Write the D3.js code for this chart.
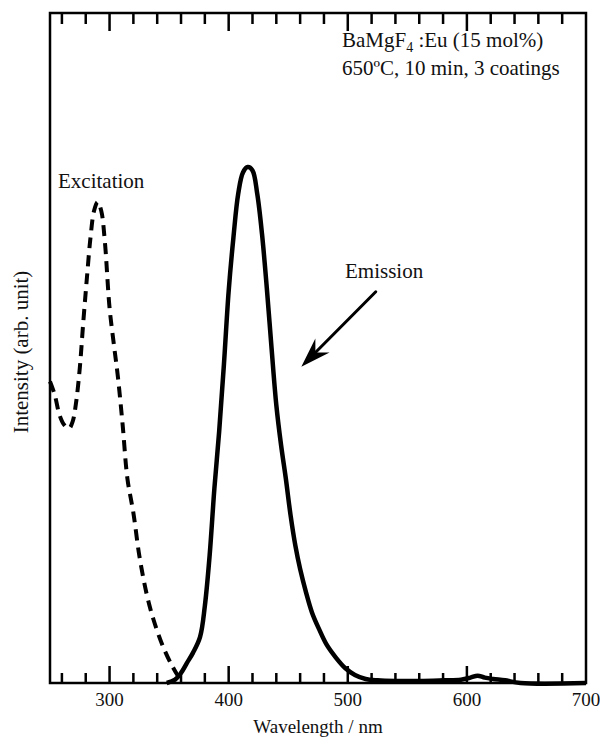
<!DOCTYPE html>
<html><head><meta charset="utf-8">
<script src="https://cdn.jsdelivr.net/npm/d3@7"></script>
<style>body{margin:0;background:#fff}svg{display:block}</style>
</head><body><svg id="c" width="600" height="739"></svg>
<script>
// ---- data ----
const excitationWl  = [250,254,258,262,266,269,272,275,278,281,284,287,290,293,296,300,304,307,311,315,320,325,331,337,345,353,360];
const excitationInt = [0.45,0.43,0.40,0.385,0.38,0.39,0.42,0.47,0.54,0.605,0.665,0.705,0.718,0.705,0.66,0.56,0.50,0.457,0.385,0.305,0.254,0.19,0.134,0.094,0.054,0.024,0.003];
const emissionWl  = [348,355,360,365,370,376,380,384,388,392,396,400,404,408,412,416,420,424,428,432,436,440,444,448,452,456,460,465,470,476,482,490,498,506,515,525,540,560,580,595,603,609,615,622,632,645,700];
const emissionInt = [0,0.005,0.015,0.03,0.045,0.069,0.115,0.19,0.29,0.375,0.475,0.585,0.665,0.73,0.762,0.77,0.765,0.73,0.67,0.59,0.50,0.415,0.355,0.305,0.25,0.205,0.17,0.135,0.105,0.08,0.058,0.038,0.022,0.012,0.006,0.004,0.003,0.003,0.004,0.005,0.008,0.011,0.008,0.006,0.004,0,0];
const majorTicks = [300,400,500,600,700];
const minorTicks = [260,280,320,340,360,380,420,440,460,480,520,540,560,580,620,640,660,680];
const xTitle = "Wavelength / nm";
const yTitle = "Intensity (arb. unit)";
const sampleLine1 = ["BaMgF", "4", " :Eu (15 mol%)"];
const sampleLine2 = "650ºC, 10 min, 3 coatings";
const excLabel = "Excitation";
const emiLabel = "Emission";

// ---- layout ----
const L = 50, R = 586, T = 13, B = 683;
const svg = d3.select("#c");
const x = d3.scaleLinear().domain([250, 700]).range([L, R]);
const y = d3.scaleLinear().domain([0, 1]).range([B, T]);
const FONT = "'Liberation Serif','Times New Roman',serif";
const INK = "#111";

// frame
svg.append("rect").attr("x", L).attr("y", T).attr("width", R - L).attr("height", B - T)
  .attr("fill", "none").attr("stroke", "#000").attr("stroke-width", 2.5);

// ticks (inward, bottom and top) drawn as thin filled rects
const tg = svg.append("g").attr("fill", "#000");
function addTicks(vals, len) {
  vals.forEach(v => {
    tg.append("rect").attr("x", x(v) - 1.25).attr("y", B - len).attr("width", 2.5).attr("height", len);
    tg.append("rect").attr("x", x(v) - 1.25).attr("y", T).attr("width", 2.5).attr("height", len + 1);
  });
}
addTicks(minorTicks, 10);
addTicks(majorTicks.filter(v => v < 700), 17);

// tick labels
svg.append("g").selectAll("text").data(majorTicks).join("text")
  .attr("x", d => x(d)).attr("y", 706).attr("text-anchor", "middle")
  .attr("font-family", FONT).attr("font-size", 19).attr("fill", INK)
  .text(d => d3.format("d")(d));

// curves
const line = d3.line().x(d => x(d[0])).y(d => y(d[1])).curve(d3.curveCatmullRom.alpha(0.5));
svg.append("path").datum(d3.zip(excitationWl, excitationInt))
  .attr("d", line).attr("fill", "none").attr("stroke", "#000")
  .attr("stroke-width", 4).attr("stroke-dasharray", "11,7");
svg.append("path").datum(d3.zip(emissionWl, emissionInt))
  .attr("d", line).attr("fill", "none").attr("stroke", "#000")
  .attr("stroke-width", 4.5).attr("stroke-linejoin", "round");

// axis titles
svg.append("text").attr("x", (L + R) / 2).attr("y", 733).attr("text-anchor", "middle")
  .attr("font-family", FONT).attr("font-size", 19).attr("fill", INK).text(xTitle);
svg.append("text").attr("transform", "translate(28,352) rotate(-90)").attr("text-anchor", "middle")
  .attr("font-family", FONT).attr("font-size", 21).attr("fill", INK).text(yTitle);

// annotations
const t1 = svg.append("text").attr("x", 342).attr("y", 47)
  .attr("font-family", FONT).attr("font-size", 21).attr("fill", INK);
t1.append("tspan").text(sampleLine1[0]);
t1.append("tspan").attr("font-size", 14).attr("dy", 5).text(sampleLine1[1]);
t1.append("tspan").attr("dy", -5).text(sampleLine1[2]);
svg.append("text").attr("x", 342).attr("y", 75)
  .attr("font-family", FONT).attr("font-size", 21).attr("fill", INK).text(sampleLine2);
svg.append("text").attr("x", 58).attr("y", 188)
  .attr("font-family", FONT).attr("font-size", 21).attr("fill", INK).text(excLabel);
svg.append("text").attr("x", 345).attr("y", 278)
  .attr("font-family", FONT).attr("font-size", 21).attr("fill", INK).text(emiLabel);

// arrow (in data coordinates)
const a0 = [523.5, 0.584], a1 = [461, 0.472];
const ax0 = x(a0[0]), ay0 = y(a0[1]), ax1 = x(a1[0]), ay1 = y(a1[1]);
const ang = Math.atan2(ay1 - ay0, ax1 - ax0);
const hl = 30, hw = 10;
const bxp = ax1 - hl * Math.cos(ang), byp = ay1 - hl * Math.sin(ang);
const mx = ax1 - 20 * Math.cos(ang), my = ay1 - 20 * Math.sin(ang);
svg.append("line").attr("x1", ax0).attr("y1", ay0).attr("x2", mx).attr("y2", my)
  .attr("stroke", "#000").attr("stroke-width", 3).attr("stroke-linecap", "round");
const nx = -Math.sin(ang), ny = Math.cos(ang);
svg.append("path").attr("d",
  `M${ax1},${ay1} L${bxp + nx * hw},${byp + ny * hw} L${mx},${my} L${bxp - nx * hw},${byp - ny * hw} Z`)
  .attr("fill", "#000");
</script>
</body></html>
